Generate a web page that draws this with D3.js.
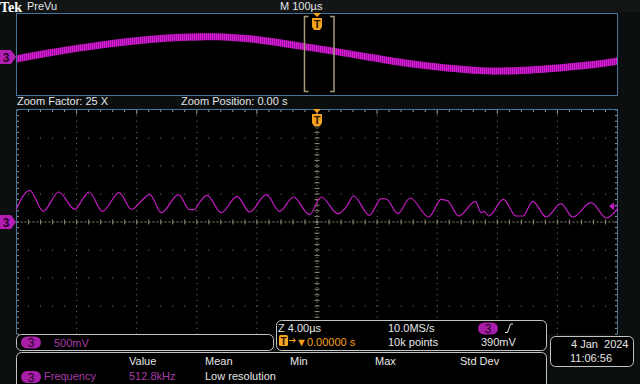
<!DOCTYPE html>
<html>
<head>
<script src="https://d3js.org/d3.v7.min.js"></script>
<style>
  body { margin: 0; background: #0b0f0f; }
  svg { display: block; font-family: "Liberation Sans", Arial, sans-serif; }
  .lbl { fill: #e6e6e6; font-size: 11px; }
</style>
</head>
<body>
<script>
// zoomed trace: time (µs) and voltage (mV)
const zoomTime = [-20.00, -19.12, -18.22, -17.19, -16.12, -15.54, -15.17, -14.28, -13.17, -12.35,
  -11.62, -11.14, -10.36, -9.21, -8.48, -8.14, -7.92, -7.32, -6.37, -5.32,
  -4.49, -3.37, -2.49, -1.56, -0.50, 0.28, 1.39, 1.99, 2.43, 3.49,
  4.27, 4.61, 5.38, 6.20, 7.44, 8.26, 8.71, 9.44, 10.54, 10.93,
  11.12, 11.44, 12.41, 13.25, 13.70, 14.36, 15.25, 16.24, 17.02, 18.24,
  19.28, 20.00];
const zoomVolt = [237, 566, 191, 536, 227, 429, 536, 191, 523, 227,
  393, 495, 166, 488, 220, 220, 309, 477, 166, 459,
  179, 488, 191, 446, 130, 446, 148, 286, 464, 120,
  416, 411, 148, 429, 89, 405, 375, 107, 370, 166,
  188, 107, 405, 107, 107, 370, 89, 327, 89, 345,
  71, 237];

// PreVu (full record) trace, band centre: time (µs) and voltage (mV)
const prevuTime = [-500, -443, -360, -277, -194, -111, -28, 5, 89, 172, 255, 310, 393, 476, 500];
const prevuVolt = [-98, 210, 586, 864, 985, 880, 537, 390, -15, -390, -634, -683, -551, -307, -181];
const ripplePP = 350;

const measHeaders = ["Value", "Mean", "Min", "Max", "Std Dev"];
const measName = "Frequency";
const measValues = ["512.8kHz", "Low resolution"];
const horizLabels = ["Z 4.00µs", "10.0MS/s", "10k points"];
const trigLevel = 390;
const dateLines = ["4 Jan  2024", "11:06:56"];

const W = 640, H = 384;
const MAG = "#c41cc4", ORANGE = "#f5a21e", BLUE = "#4a7499", BOX = "#c4c4c4";

const svg = d3.select("body").append("svg").attr("width", W).attr("height", H);

// scales
const x = d3.scaleLinear().domain([-20, 20]).range([16.5, 617.5]);
const y = d3.scaleLinear().domain([-2000, 2000]).range([334, 110]);
const xp = d3.scaleLinear().domain([-500, 500]).range([16.5, 617.5]);
const yp = d3.scaleLinear().domain([-2000, 2000]).range([98, 16]);

// header
svg.append("rect").attr("width", W).attr("height", 12).attr("fill", "#111515");
svg.append("text").attr("x", 0).attr("y", 11.5).attr("fill", "#fff")
  .attr("font-weight", "bold").attr("font-size", "14px")
  .attr("font-family", "'Liberation Serif', serif").text("Tek");
svg.append("text").attr("class", "lbl").attr("x", 27).attr("y", 10).text("PreVu");
svg.append("text").attr("class", "lbl").attr("x", 280).attr("y", 10).text("M 100µs");

// PreVu panel
svg.append("rect").attr("x", 16.5).attr("y", 13.5).attr("width", 601).attr("height", 82)
  .attr("fill", "#000").attr("stroke", BLUE);

const defs = svg.append("defs");
const hatch = defs.append("pattern").attr("id", "hatch").attr("patternUnits", "userSpaceOnUse")
  .attr("width", 2).attr("height", 3);
hatch.append("rect").attr("width", 2).attr("height", 3).attr("fill", "#9c0c9c");
hatch.append("rect").attr("width", 1).attr("height", 3).attr("fill", "#d81ed8");
defs.append("clipPath").attr("id", "pclip").append("rect")
  .attr("x", 17).attr("y", 14).attr("width", 600).attr("height", 81);

const prevu = prevuTime.map((t, i) => ({ t, v: prevuVolt[i] }));
svg.append("path").datum(prevu)
  .attr("clip-path", "url(#pclip)")
  .attr("fill", "url(#hatch)")
  .attr("d", d3.area().curve(d3.curveNatural)
    .x(d => xp(d.t))
    .y0(d => yp(d.v - ripplePP / 2))
    .y1(d => yp(d.v + ripplePP / 2)));

// zoom window brackets
const zl = xp(-20) - 0.5, zr = xp(20) + 5;
const br = svg.append("g").attr("stroke", "#a69a7a").attr("stroke-width", 1.5).attr("fill", "none");
br.append("path").attr("d", `M${zl + 4},16.5H${zl}V91.5H${zl + 4}`);
br.append("path").attr("d", `M${zr - 4},16.5H${zr}V91.5H${zr - 4}`);

function trigMarker(cx, top) {
  const g = svg.append("g").attr("transform", `translate(${cx},${top})`);
  g.append("path").attr("d", "M-4,0H4L0,4Z").attr("fill", ORANGE);
  g.append("path").attr("d", "M-5,5H5V14L3,17H-3L-5,14Z").attr("fill", ORANGE);
  g.append("text").attr("x", 0).attr("y", 15).attr("text-anchor", "middle")
    .attr("font-size", "11px").attr("font-weight", "bold").attr("fill", "#2a1600").text("T");
}
trigMarker(xp(0), 13);

// zoom info line
svg.append("text").attr("class", "lbl").attr("x", 17).attr("y", 105).text("Zoom Factor: 25 X");
svg.append("text").attr("class", "lbl").attr("x", 181).attr("y", 105).text("Zoom Position: 0.00 s");

// main graticule
svg.append("rect").attr("x", 16.5).attr("y", 110).attr("width", 601).attr("height", 224).attr("fill", "#000");
const grid = svg.append("g");
const divT = d3.range(-16, 16.01, 4);
const divV = d3.range(-1500, 1501, 500);
const minT = d3.range(-20, 20.01, 0.8);
const minV = d3.range(-2000, 2001, 100);

// dotted division lines
divT.filter(t => t !== 0).forEach(t => {
  grid.selectAll(null).data(minV).join("rect")
    .attr("x", x(t) - 0.5).attr("y", d => y(d) - 0.5).attr("width", 1).attr("height", 1).attr("fill", "#7a7a7a");
});
divV.filter(v => v !== 0).forEach(v => {
  grid.selectAll(null).data(minT).join("rect")
    .attr("x", d => x(d) - 0.5).attr("y", y(v) - 0.5).attr("width", 1).attr("height", 1).attr("fill", "#7a7a7a");
});

// centre axes with ticks
const CEN = "#8e8a74";
grid.append("line").attr("x1", x(0)).attr("x2", x(0)).attr("y1", 110).attr("y2", 334)
  .attr("stroke", CEN).attr("stroke-dasharray", "1,2");
grid.append("line").attr("x1", 16.5).attr("x2", 617.5).attr("y1", y(0)).attr("y2", y(0))
  .attr("stroke", CEN).attr("stroke-dasharray", "2,2");
grid.selectAll(null).data(minV).join("line")
  .attr("x1", x(0) - 2.5).attr("x2", x(0) + 2.5).attr("y1", d => y(d)).attr("y2", d => y(d)).attr("stroke", CEN);
grid.selectAll(null).data(minT).join("line")
  .attr("x1", d => x(d)).attr("x2", d => x(d)).attr("y1", y(0) - 2.5).attr("y2", y(0) + 2.5).attr("stroke", CEN);

// border ticks
grid.selectAll(null).data(minT).join("line")
  .attr("x1", d => x(d)).attr("x2", d => x(d)).attr("y1", 110).attr("y2", (d, i) => i % 5 === 0 ? 114 : 112)
  .attr("stroke", "#9a9a9a");
grid.selectAll(null).data(minV).join("line")
  .attr("x1", 16.5).attr("x2", 19).attr("y1", d => y(d)).attr("y2", d => y(d)).attr("stroke", "#9a9a9a");
grid.selectAll(null).data(minV).join("line")
  .attr("x1", 615).attr("x2", 617.5).attr("y1", d => y(d)).attr("y2", d => y(d)).attr("stroke", "#9a9a9a");

// borders
svg.append("path").attr("d", "M16.5,334V109.5H617.5V334").attr("fill", "none").attr("stroke", BLUE);

// zoomed trace
const zoomData = zoomTime.map((t, i) => ({ t, v: zoomVolt[i] }));
svg.append("path").datum(zoomData)
  .attr("fill", "none").attr("stroke", MAG).attr("stroke-width", 1.2)
  .attr("d", d3.line().curve(d3.curveMonotoneX).x(d => x(d.t)).y(d => y(d.v)));

trigMarker(x(0), 109);

// trigger level marker
svg.append("path").attr("d", `M609,${y(trigLevel) + 6}L614,${y(trigLevel) + 2}V${y(trigLevel) + 10}Z`).attr("fill", MAG);
svg.append("line").attr("x1", 613).attr("x2", 618).attr("y1", y(trigLevel) + 6).attr("y2", y(trigLevel) + 6)
  .attr("stroke", MAG);

// channel ground markers
function chMarker(cy) {
  const g = svg.append("g").attr("transform", `translate(0,${cy})`);
  g.append("path").attr("d", "M0,-7H11L16,0L11,7H0Z").attr("fill", "#b41eb4");
  g.append("text").attr("x", 6).attr("y", 4.5).attr("text-anchor", "middle")
    .attr("font-size", "12px").attr("font-weight", "bold").attr("fill", "#2a002a").text("3");
}
chMarker(yp(0));
chMarker(y(0));

// pill badge
function pill(px, py) {
  svg.append("rect").attr("x", px).attr("y", py).attr("width", 20).attr("height", 12)
    .attr("rx", 6).attr("fill", "#a81ea8");
  svg.append("text").attr("x", px + 10).attr("y", py + 10.5).attr("text-anchor", "middle")
    .attr("font-size", "12px").attr("fill", "#1e001e").text("3");
}

// bottom boxes
function box(bx, by, bw, bh) {
  svg.append("rect").attr("x", bx).attr("y", by).attr("width", bw).attr("height", bh)
    .attr("rx", 5).attr("fill", "#000").attr("stroke", BOX);
}
box(16.5, 334.5, 257, 16);
box(276.5, 320.5, 270, 30);
box(550.5, 336.5, 83, 30);
box(16.5, 352.5, 530, 40);

pill(21, 336.5);
svg.append("text").attr("x", 54).attr("y", 346.5).attr("font-size", "11px").attr("fill", "#a83aa8").text("500mV");

// horizontal / trigger box
svg.append("text").attr("class", "lbl").attr("x", 278).attr("y", 332).text(horizLabels[0]);
svg.append("text").attr("class", "lbl").attr("x", 388).attr("y", 332).text(horizLabels[1]);
svg.append("text").attr("class", "lbl").attr("x", 388).attr("y", 346).text(horizLabels[2]);
pill(478, 322.5);
svg.append("path").attr("d", "M505,332.5H507.5L510.5,324H513").attr("fill", "none").attr("stroke", "#e6e6e6");
svg.append("text").attr("class", "lbl").attr("x", 481).attr("y", 346).text(`${trigLevel}mV`);
svg.append("rect").attr("x", 279).attr("y", 335).attr("width", 9).attr("height", 11).attr("rx", 1.5).attr("fill", ORANGE);
svg.append("text").attr("x", 283.5).attr("y", 344.5).attr("text-anchor", "middle").attr("font-size", "10px")
  .attr("font-weight", "bold").attr("fill", "#2a1600").text("T");
svg.append("path").attr("d", "M289,340.5H295M293,338.5L295.5,340.5L293,342.5").attr("fill", "none").attr("stroke", ORANGE);
svg.append("text").attr("x", 296).attr("y", 346).attr("font-size", "11px").attr("fill", ORANGE).text("▼0.00000 s");

// date box
svg.append("text").attr("class", "lbl").attr("x", 571).attr("y", 348).attr("xml:space", "preserve").text(dateLines[0]);
svg.append("text").attr("class", "lbl").attr("x", 570).attr("y", 362).text(dateLines[1]);

// measurement box
const headX = [129, 205, 290, 375, 460];
svg.selectAll(null).data(measHeaders).join("text").attr("class", "lbl")
  .attr("x", (d, i) => headX[i]).attr("y", 365).text(d => d);
pill(21, 371);
svg.append("text").attr("x", 44).attr("y", 380).attr("font-size", "11px").attr("fill", "#a83aa8").text(measName);
svg.append("text").attr("x", 129).attr("y", 380).attr("font-size", "11px").attr("fill", "#a83aa8").text(measValues[0]);
svg.append("text").attr("class", "lbl").attr("x", 205).attr("y", 380).text(measValues[1]);
</script>
</body>
</html>
